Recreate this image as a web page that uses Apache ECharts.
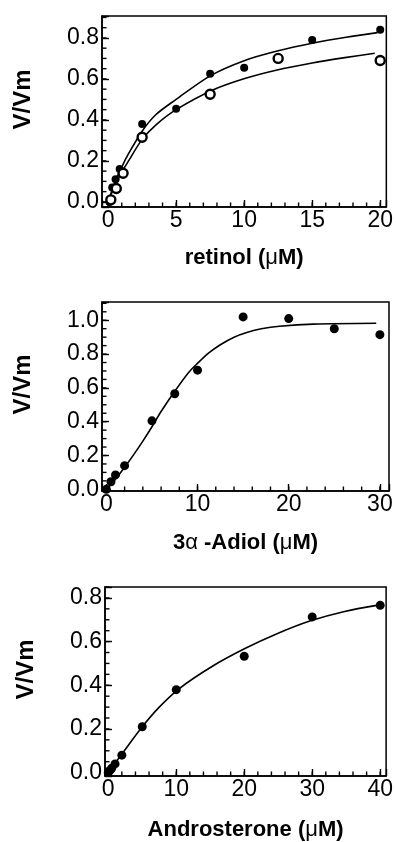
<!DOCTYPE html>
<html>
<head>
<meta charset="utf-8">
<script src="https://cdn.jsdelivr.net/npm/echarts@6/dist/echarts.min.js"></script>
<style>
  html, body { margin: 0; padding: 0; background: #fff; }
  #chart { width: 396px; height: 842px; }
</style>
</head>
<body>
<div id="chart"></div>
<script>
// panel 1: retinol
const retinolFilled = [[0.1, 0.0], [0.3, 0.07], [0.55, 0.11], [0.85, 0.16], [2.5, 0.38], [5, 0.455], [7.5, 0.625], [10, 0.655], [15, 0.79], [20, 0.84]];
const retinolOpen = [[0.2, 0.01], [0.6, 0.065], [1.1, 0.14], [2.5, 0.315], [7.5, 0.525], [12.5, 0.70], [20, 0.69]];
const retinolFitFilled = [[0, 0], [0.5, 0.095], [1, 0.17], [1.5, 0.235], [2.5, 0.345], [3.5, 0.425], [5, 0.5], [7.5, 0.615], [10, 0.689], [12.5, 0.737], [15, 0.774], [17.5, 0.803], [19.8, 0.826]];
const retinolFitOpen = [[0, 0], [0.5, 0.08], [1, 0.145], [1.5, 0.2], [2.5, 0.305], [3.5, 0.375], [5, 0.45], [7.7, 0.546], [10.1, 0.603], [12.5, 0.645], [15, 0.678], [17.4, 0.704], [19.6, 0.725]];

// panel 2: 3a-Adiol
const adiolPoints = [[0, 0], [0.5, 0.045], [1, 0.085], [2, 0.14], [5, 0.405], [7.5, 0.565], [10, 0.705], [15, 1.02], [20, 1.01], [25, 0.95], [30, 0.915]];
const adiolFit = [[0, 0], [1, 0.06], [2, 0.13], [3, 0.205], [4, 0.285], [5, 0.37], [6, 0.46], [7.5, 0.58], [9, 0.69], [10, 0.745], [11.2, 0.805], [12.5, 0.855], [14, 0.9], [15.4, 0.928], [17, 0.95], [19, 0.965], [22.7, 0.977], [29.6, 0.982]];

// panel 3: androsterone
const androPoints = [[0, 0], [0.25, 0.01], [0.5, 0.02], [1, 0.04], [2, 0.08], [5, 0.21], [10, 0.38], [20, 0.533], [30, 0.713], [40, 0.766]];
const androFit = [[0, 0], [2, 0.085], [5, 0.21], [7.5, 0.3], [10.4, 0.384], [15.2, 0.485], [20.1, 0.568], [24.9, 0.637], [29.75, 0.695], [34.6, 0.737], [39.9, 0.768]];

// tick labels
const retinolXTicks = [0, 5, 10, 15, 20];
const adiolXTicks = [0, 10, 20, 30];
const androXTicks = [0, 10, 20, 30, 40];
const yTicks08 = [0, 0.2, 0.4, 0.6, 0.8];
const yTicks10 = [0, 0.2, 0.4, 0.6, 0.8, 1.0];

function steps(a, b, d) {
  const out = [];
  for (let v = a; v <= b + 1e-9; v += d) out.push(+v.toFixed(3));
  return out;
}

const font = 'Liberation Sans, Arial, sans-serif';
const black = '#000';

// xSplit / ySplit are chosen so the nice tick step comes out as 5 (or 10) and 0.2
const panels = [
  {
    box: { left: 102, top: 16, width: 286, height: 191 },
    x: [-0.45, 20.45], y: [-0.025, 0.907],
    xMajor: retinolXTicks, xSplit: 4, xMinor: steps(0, 20, 1),
    yMajor: yTicks08, ySplit: 5, yMinor: steps(0, 0.9, 0.05),
    title: 'retinol ({g|μ}M)', titleGap: 40
  },
  {
    box: { left: 102, top: 302, width: 287, height: 189 },
    x: [-0.48, 31.0], y: [-0.01, 1.108],
    xMajor: adiolXTicks, xSplit: 3, xMinor: steps(0, 30, 2),
    yMajor: yTicks10, ySplit: 5, yMinor: steps(0, 1.1, 0.05),
    title: '3{g|α} -Adiol ({g|μ}M)', titleGap: 41
  },
  {
    box: { left: 105, top: 587, width: 285, height: 190 },
    x: [-0.48, 40.87], y: [-0.0155, 0.85],
    xMajor: androXTicks, xSplit: 4, xMinor: steps(0, 40, 2),
    yMajor: yTicks08, ySplit: 5, yMinor: steps(0, 0.85, 0.05),
    title: 'Androsterone ({g|μ}M)', titleGap: 43
  }
];

// only label the listed tick values (the axis ends also get a tick)
const onlyTicks = (list, digits) => v => {
  const hit = list.find(t => Math.abs(t - v) < 1e-6);
  return hit === undefined ? '' : hit.toFixed(digits);
};

const grid = [], xAxis = [], yAxis = [];
const line = { color: black, width: 1.5 };
const major = { show: true, inside: true, length: 7, lineStyle: { color: black, width: 1.4 } };

panels.forEach((p, i) => {
  grid.push({ ...p.box, show: true, borderColor: black, borderWidth: 1.5, backgroundColor: 'transparent' });
  xAxis.push({
    type: 'value', gridIndex: i, min: p.x[0], max: p.x[1], splitNumber: p.xSplit, position: 'bottom',
    name: p.title, nameLocation: 'middle', nameGap: p.titleGap,
    nameTextStyle: {
      fontSize: 22, fontWeight: 'bold', fontFamily: font, color: black,
      rich: { g: { fontSize: 22, fontWeight: 'normal', fontFamily: font, color: black } }
    },
    axisLine: { show: true, onZero: false, lineStyle: line },
    axisTick: major,
    axisLabel: {
      show: true, showMinLabel: true, showMaxLabel: true, margin: 2, fontSize: 23, color: black, fontFamily: font,
      formatter: onlyTicks(p.xMajor, 0)
    },
    splitLine: { show: false }
  });
  yAxis.push({
    type: 'value', gridIndex: i, min: p.y[0], max: p.y[1], splitNumber: p.ySplit, position: 'left',
    name: 'V/Vm', nameLocation: 'middle', nameRotate: 90, nameGap: 67,
    nameTextStyle: { fontSize: 24, fontWeight: 'bold', fontFamily: font, color: black, padding: [0, 0, 0, 24] },
    axisLine: { show: true, onZero: false, lineStyle: line },
    axisTick: major,
    axisLabel: {
      show: true, showMinLabel: true, showMaxLabel: true, margin: 3, fontSize: 23, color: black, fontFamily: font,
      formatter: onlyTicks(p.yMajor, 1)
    },
    splitLine: { show: false }
  });
});

const fitLine = (data, i) => ({
  type: 'line', data, xAxisIndex: i, yAxisIndex: i,
  smooth: 0.3, showSymbol: false, silent: true,
  lineStyle: { color: black, width: 1.6 }, z: 2
});
const filled = (data, i, size) => ({
  type: 'scatter', data, xAxisIndex: i, yAxisIndex: i,
  symbol: 'circle', symbolSize: size, itemStyle: { color: black, opacity: 1 }, z: 3
});
const open = (data, i, size) => ({
  type: 'scatter', data, xAxisIndex: i, yAxisIndex: i,
  symbol: 'circle', symbolSize: size,
  itemStyle: { color: '#fff', borderColor: black, borderWidth: 2.4, opacity: 1 }, z: 4
});
// short inward minor ticks, placed on the axis lines through the axis scales
const minorTicks = (p, i) => [
  {
    type: 'scatter', xAxisIndex: i, yAxisIndex: i, silent: true, clip: false, z: 5,
    data: p.xMinor.map(v => [v, p.y[0]]),
    symbol: 'rect', symbolSize: [1.4, 4.5], symbolOffset: [0, -2.25],
    itemStyle: { color: black, opacity: 1 }
  },
  {
    type: 'scatter', xAxisIndex: i, yAxisIndex: i, silent: true, clip: false, z: 5,
    data: p.yMinor.map(v => [p.x[0], v]),
    symbol: 'rect', symbolSize: [4.5, 1.4], symbolOffset: [2.25, 0],
    itemStyle: { color: black, opacity: 1 }
  }
];

const chart = echarts.init(document.getElementById('chart'), null, { renderer: 'canvas' });
chart.setOption({
  animation: false,
  backgroundColor: '#fff',
  grid, xAxis, yAxis,
  series: [
    ...panels.flatMap(minorTicks),
    fitLine(retinolFitFilled, 0),
    fitLine(retinolFitOpen, 0),
    filled(retinolFilled, 0, 8),
    open(retinolOpen, 0, 9),
    fitLine(adiolFit, 1),
    filled(adiolPoints, 1, 9),
    fitLine(androFit, 2),
    filled(androPoints, 2, 9)
  ]
});
</script>
</body>
</html>
